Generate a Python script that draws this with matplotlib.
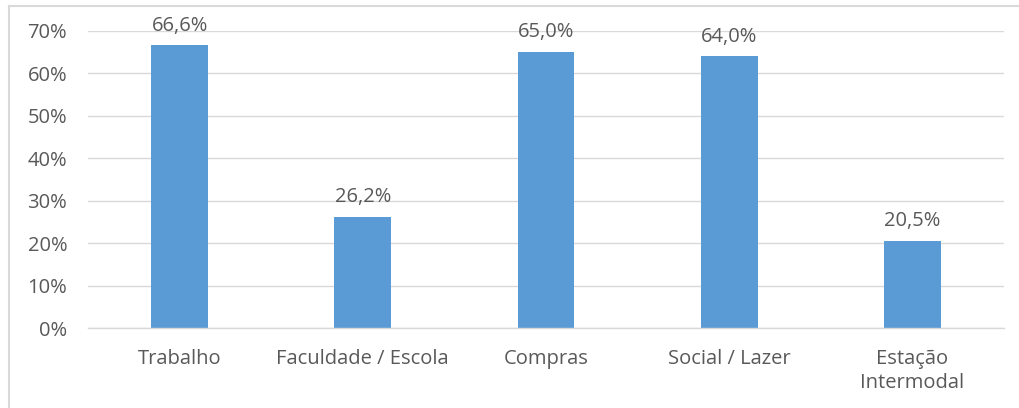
import matplotlib
matplotlib.use("Agg")
import matplotlib.pyplot as plt
from matplotlib.lines import Line2D
from matplotlib.ticker import FuncFormatter, MultipleLocator

categories = ["Trabalho", "Faculdade / Escola", "Compras", "Social / Lazer", "Estação\nIntermodal"]
values = [0.666, 0.262, 0.650, 0.640, 0.205]
value_labels = ["66,6%", "26,2%", "65,0%", "64,0%", "20,5%"]

plt.rcParams['font.family'] = ['Open Sans', 'DejaVu Sans']
text_color = "#595959"
grid_color = "#D9D9D9"
bar_color = "#5B9BD5"
fs = 14.5

W, H = 1019, 408
fig = plt.figure(figsize=(W / 100, H / 100), dpi=100)
ax = fig.add_axes([88 / W, 1 - 328 / H, (1004 - 88) / W, (328 - 31) / H])

x = list(range(len(categories)))
ax.bar(x, values, width=0.31, color=bar_color, zorder=3)
for xi, v, lab in zip(x, values, value_labels):
    ax.annotate(lab, (xi, v), xytext=(0, 7), textcoords="offset points",
                ha="center", va="bottom", fontsize=fs, color=text_color)

ax.set_xlim(-0.5, len(categories) - 0.5)
ax.set_ylim(0, 0.7)
ax.yaxis.set_major_locator(MultipleLocator(0.1))
ax.yaxis.set_major_formatter(FuncFormatter(lambda v, p: f"{v*100:.0f}%"))
ax.set_xticks(x)
ax.set_xticklabels(categories, linespacing=1.3)
ax.tick_params(axis="x", length=0, pad=15, labelsize=fs, labelcolor=text_color)
ax.tick_params(axis="y", length=0, pad=15, labelsize=fs, labelcolor=text_color)
ax.grid(axis="y", color=grid_color, linewidth=1, zorder=0)
for s in ["top", "right", "left"]:
    ax.spines[s].set_visible(False)
ax.spines["bottom"].set_color(grid_color)
ax.spines["bottom"].set_linewidth(1)
ax.spines["bottom"].set_zorder(4)

# chart area frame: top and left edges only (rest is cropped in the reference)
fy = 1 - 5.5 / H
fx = 8.5 / W
fig.add_artist(Line2D([fx, 1.0], [fy, fy], transform=fig.transFigure,
                      color=grid_color, linewidth=1.5))
fig.add_artist(Line2D([fx, fx], [0.0, fy], transform=fig.transFigure,
                      color=grid_color, linewidth=1.5))

fig.savefig("out.png", dpi=100)
